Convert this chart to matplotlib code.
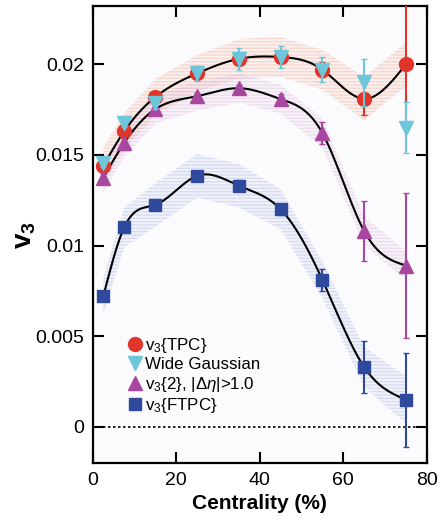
import numpy as np
import matplotlib
matplotlib.use("Agg")
import matplotlib.pyplot as plt
from matplotlib.colors import to_rgba

#================================================================================================
# v3 vs centrality: TPC, wide Gaussian, v3{2} and FTPC with systematic bands
#================================================================================================
cent = np.array([2.5, 7.5, 15, 25, 35, 45, 55, 65, 75])

v3_tpc = [0.0144, 0.0163, 0.0182, 0.0195, 0.0203, 0.0204, 0.0197, 0.0181, 0.0200]
v3_tpc_err = [0.0002, 0.0002, 0.0002, 0.0003, 0.0003, 0.0003, 0.0004, 0.0009, 0.0035]
v3_tpc_sys = [0.0010, 0.0010, 0.0010, 0.0010, 0.0011, 0.0011, 0.0011, 0.0012, 0.0012]

v3_wide = [0.01456, 0.01676, 0.01786, 0.0195, 0.0203, 0.0204, 0.0197, 0.0190, 0.0165]
v3_wide_err = [0.0002, 0.0002, 0.0003, 0.0004, 0.0006, 0.0006, 0.0007, 0.0013, 0.0014]

v3_2 = [0.01374, 0.01566, 0.01753, 0.01824, 0.01868, 0.01808, 0.0162, 0.0108, 0.0089]
v3_2_err = [0.0002, 0.0002, 0.0002, 0.0002, 0.0002, 0.0003, 0.0006, 0.00165, 0.0040]
v3_2_sys = [0.0008, 0.0008, 0.0008, 0.0008, 0.0008, 0.0008, 0.0008, 0.0008, 0.0008]

v3_ftpc = [0.0072, 0.0110, 0.01225, 0.01385, 0.0133, 0.0120, 0.0081, 0.0033, 0.0015]
v3_ftpc_err = [0.0001, 0.0002, 0.0002, 0.0002, 0.0003, 0.0003, 0.0006, 0.00145, 0.0026]
v3_ftpc_sys = [0.0010, 0.0011, 0.0012, 0.0012, 0.0012, 0.0011, 0.0010, 0.0011, 0.0013]


def spline(x, y, xs):
    # natural cubic spline through the points
    x = np.asarray(x, float); y = np.asarray(y, float)
    n = len(x); h = np.diff(x)
    A = np.zeros((n, n)); b = np.zeros(n)
    A[0, 0] = A[-1, -1] = 1.
    for i in range(1, n - 1):
        A[i, i - 1] = h[i - 1]; A[i, i] = 2 * (h[i - 1] + h[i]); A[i, i + 1] = h[i]
        b[i] = 3 * ((y[i + 1] - y[i]) / h[i] - (y[i] - y[i - 1]) / h[i - 1])
    c = np.linalg.solve(A, b)
    k = np.clip(np.searchsorted(x, xs) - 1, 0, n - 2)
    dx = xs - x[k]
    bb = (y[k + 1] - y[k]) / h[k] - h[k] * (2 * c[k] + c[k + 1]) / 3
    d = (c[k + 1] - c[k]) / (3 * h[k])
    return y[k] + bb * dx + c[k] * dx**2 + d * dx**3


plt.rcParams["font.family"] = ["Liberation Sans", "DejaVu Sans"]
plt.rcParams["mathtext.fontset"] = "custom"
plt.rcParams["mathtext.rm"] = "Liberation Sans"
plt.rcParams["mathtext.it"] = "Liberation Sans:italic"
plt.rcParams["mathtext.bf"] = "Liberation Sans:bold"
plt.rcParams["hatch.linewidth"] = 1.0

red = "#e0352b"
cyan = "#6ec6da"
mag = "#a8479f"
blue = "#2f4a9c"

fig = plt.figure(figsize=(4.4, 5.21), dpi=100)
ax = fig.add_axes([0.211, 0.111, 0.759, 0.877])
ax.set_facecolor("#fbfbfe")

bands = [(v3_tpc, v3_tpc_sys, "#f2a88e"), (v3_2, v3_2_sys, "#dcb6d8"), (v3_ftpc, v3_ftpc_sys, "#aab3e2")]
for y, s, col in bands:
    y = np.array(y); s = np.array(s)
    ax.fill_between(cent, y - s, y + s, facecolor=to_rgba(col, 0.12), edgecolor=to_rgba(col, 0.35),
                    hatch="-----", linewidth=0, zorder=1)

xs = np.linspace(2.5, 75, 300)
for y in [v3_tpc, v3_2, v3_ftpc]:
    ax.plot(xs, spline(cent, y, xs), color="black", lw=1.5, zorder=3)

ax.axhline(0, color="black", ls=(0, (1.5, 1.5)), lw=1.2, zorder=2)

ax.errorbar(cent, v3_tpc, yerr=v3_tpc_err, fmt="o", color=red, ms=10, capsize=2, elinewidth=1.5, zorder=4, label="v$_3${TPC}")
ax.errorbar(cent, v3_wide, yerr=v3_wide_err, fmt="v", color=cyan, ms=10, capsize=2, elinewidth=1.5, zorder=5, label="Wide Gaussian")
ax.errorbar(cent, v3_2, yerr=v3_2_err, fmt="^", color=mag, ms=10, capsize=2, elinewidth=1.5, zorder=4, label=r"v$_3${2}, |$\Delta\eta$|>1.0")
ax.errorbar(cent, v3_ftpc, yerr=v3_ftpc_err, fmt="s", color=blue, ms=9, capsize=2, elinewidth=1.5, zorder=4, label="v$_3${FTPC}")

ax.set_xlim(0, 80)
ax.set_ylim(-0.002, 0.0232)
ax.set_xticks([0, 20, 40, 60, 80])
ax.set_yticks([0, 0.005, 0.01, 0.015, 0.02])
ax.set_yticklabels(["0", "0.005", "0.01", "0.015", "0.02"])
ax.tick_params(direction="in", length=8, width=1.5, labelsize=14, top=True, right=True, pad=6)
for sp in ax.spines.values():
    sp.set_linewidth(1.6)
ax.set_xlabel("Centrality (%)", fontsize=15, fontweight="bold")
ax.set_ylabel("v$_\\mathbf{3}$", fontsize=20, fontweight="bold", labelpad=-2)

h, l = ax.get_legend_handles_labels()
h = [hh[0] for hh in h]
ax.legend(h, l, loc="lower left", bbox_to_anchor=(0.09, 0.09), frameon=False, fontsize=12.2,
          handlelength=0.6, handletextpad=0.3, labelspacing=0.15, borderaxespad=0)

fig.savefig("out.png", dpi=100)
